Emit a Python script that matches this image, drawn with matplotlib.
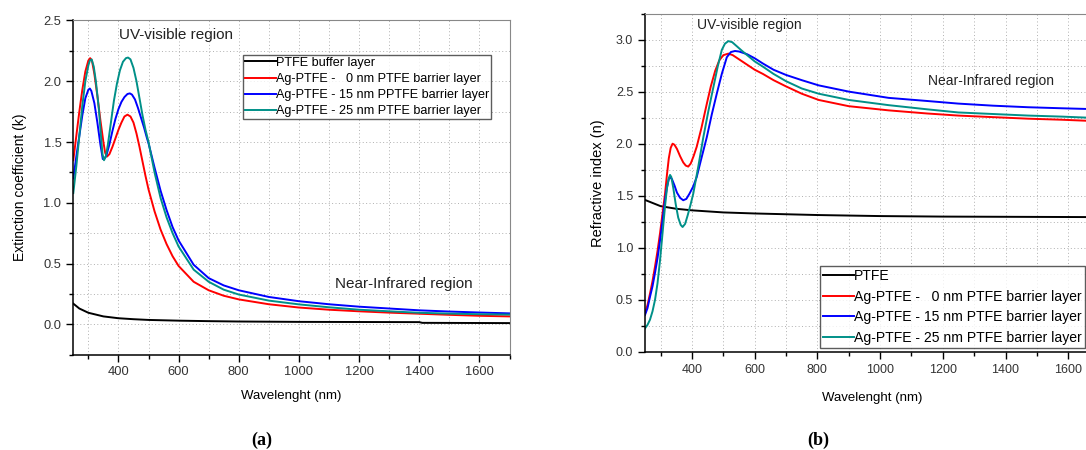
import numpy as np
import matplotlib.pyplot as plt
from matplotlib.ticker import MultipleLocator

plt.rcParams['font.family'] = ['Liberation Sans', 'DejaVu Sans']

# ---- (a) extinction coefficient k ----
wl_ptfe_k = [250, 270, 300, 350, 400, 450, 500, 600, 700, 800, 1000, 1200, 1400, 1410, 1700]
k_ptfe = [0.17, 0.13, 0.095, 0.065, 0.05, 0.042, 0.036, 0.03, 0.026, 0.023, 0.02, 0.019, 0.018, 0.012, 0.01]

wl_k0 = [250, 260, 270, 280, 290, 300, 306, 312, 320, 330, 340, 350, 356, 362, 370, 380, 390,
         400, 410, 420, 430, 440, 450, 460, 470, 480, 490, 500, 520, 540, 560, 580, 600, 650,
         700, 750, 800, 900, 1000, 1100, 1200, 1300, 1400, 1500, 1600, 1700]
k_0nm = [1.35, 1.55, 1.75, 1.93, 2.08, 2.17, 2.19, 2.17, 2.06, 1.88, 1.68, 1.50, 1.41, 1.38, 1.40,
         1.46, 1.53, 1.60, 1.66, 1.71, 1.725, 1.71, 1.66, 1.57, 1.46, 1.34, 1.22, 1.11, 0.93, 0.78,
         0.66, 0.56, 0.48, 0.35, 0.28, 0.235, 0.205, 0.165, 0.138, 0.12, 0.107, 0.096, 0.087,
         0.078, 0.07, 0.065]

wl_k15 = [250, 260, 270, 280, 290, 300, 305, 310, 320, 330, 340, 348, 355, 360, 370, 380, 390,
          400, 410, 420, 430, 438, 445, 455, 465, 475, 485, 495, 500, 520, 540, 560, 580, 600,
          650, 700, 750, 800, 900, 1000, 1100, 1200, 1300, 1400, 1500, 1600, 1700]
k_15nm = [1.20, 1.38, 1.55, 1.72, 1.86, 1.93, 1.94, 1.92, 1.82, 1.66, 1.48, 1.36, 1.37, 1.39,
          1.48, 1.59, 1.69, 1.77, 1.83, 1.87, 1.895, 1.90, 1.89, 1.85, 1.78, 1.70, 1.62, 1.53,
          1.49, 1.29, 1.10, 0.94, 0.80, 0.69, 0.49, 0.38, 0.32, 0.28, 0.225, 0.19, 0.165, 0.145,
          0.13, 0.115, 0.105, 0.097, 0.09]

wl_k25 = [250, 260, 270, 280, 290, 300, 305, 311, 318, 325, 335, 342, 347, 352, 358, 365, 375,
          385, 395, 405, 415, 425, 432, 440, 450, 460, 470, 480, 490, 500, 520, 540, 560, 580,
          600, 650, 700, 750, 800, 900, 1000, 1100, 1200, 1300, 1400, 1500, 1600, 1700]
k_25nm = [1.08, 1.30, 1.55, 1.80, 2.00, 2.13, 2.17, 2.18, 2.12, 2.00, 1.77, 1.55, 1.40, 1.35,
          1.38, 1.48, 1.66, 1.84, 1.98, 2.09, 2.16, 2.19, 2.195, 2.18, 2.11, 2.00, 1.86, 1.72,
          1.60, 1.50, 1.25, 1.04, 0.88, 0.75, 0.64, 0.45, 0.35, 0.285, 0.245, 0.195, 0.164,
          0.14, 0.12, 0.107, 0.095, 0.088, 0.083, 0.08]

# ---- (b) refractive index n ----
wl_ptfe_n = [250, 275, 300, 350, 400, 500, 600, 800, 1000, 1200, 1400, 1700]
n_ptfe = [1.46, 1.43, 1.40, 1.375, 1.36, 1.34, 1.33, 1.315, 1.305, 1.30, 1.298, 1.295]

wl_n0 = [250, 258, 266, 274, 282, 290, 298, 306, 314, 320, 326, 332, 338, 344, 352, 362, 372,
         380, 388, 396, 405, 415, 430, 447, 460, 474, 487, 500, 516, 530, 550, 575, 600, 626,
         660, 700, 750, 804, 900, 1027, 1150, 1249, 1360, 1472, 1580, 1700]
n_0nm = [0.37, 0.45, 0.56, 0.68, 0.82, 0.97, 1.14, 1.33, 1.52, 1.70, 1.86, 1.96, 2.00, 1.99,
         1.95, 1.88, 1.82, 1.79, 1.78, 1.81, 1.88, 1.97, 2.15, 2.38, 2.55, 2.70, 2.80, 2.85,
         2.865, 2.85, 2.81, 2.76, 2.71, 2.67, 2.61, 2.55, 2.48, 2.42, 2.36, 2.32, 2.29, 2.27,
         2.255, 2.24, 2.23, 2.215]

wl_n15 = [250, 258, 266, 274, 282, 290, 298, 306, 314, 320, 326, 330, 336, 344, 352, 362, 372,
          382, 392, 404, 415, 430, 447, 463, 479, 495, 511, 524, 537, 550, 575, 600, 626, 660,
          700, 750, 804, 900, 1027, 1150, 1249, 1360, 1472, 1580, 1700]
n_15nm = [0.355, 0.42, 0.53, 0.63, 0.76, 0.90, 1.07, 1.26, 1.46, 1.58, 1.66, 1.68, 1.66, 1.60,
          1.53, 1.48, 1.457, 1.47, 1.52, 1.59, 1.68, 1.86, 2.06, 2.28, 2.48, 2.67, 2.83, 2.88,
          2.89, 2.885, 2.86, 2.82, 2.77, 2.71, 2.66, 2.61, 2.56, 2.50, 2.44, 2.41, 2.385, 2.365,
          2.35, 2.34, 2.33]

wl_n25 = [250, 258, 266, 274, 282, 290, 298, 306, 314, 320, 326, 330, 334, 340, 348, 356, 364,
          370, 378, 386, 395, 404, 420, 436, 452, 468, 482, 495, 505, 516, 528, 545, 560, 580,
          600, 626, 660, 700, 750, 804, 900, 1027, 1150, 1249, 1360, 1472, 1580, 1700]
n_25nm = [0.227, 0.26, 0.31, 0.39, 0.50, 0.66, 0.88, 1.14, 1.40, 1.57, 1.67, 1.70, 1.68, 1.58,
          1.42, 1.29, 1.22, 1.20, 1.23, 1.31, 1.41, 1.52, 1.78, 2.06, 2.31, 2.54, 2.74, 2.90,
          2.96, 2.985, 2.975, 2.93, 2.89, 2.84, 2.79, 2.74, 2.67, 2.60, 2.53, 2.48, 2.42, 2.37,
          2.33, 2.30, 2.285, 2.27, 2.26, 2.245]

label_ptfe_a = 'PTFE buffer layer'
labels_a = ['Ag-PTFE -   0 nm PTFE barrier layer', 'Ag-PTFE - 15 nm PPTFE barrier layer',
            'Ag-PTFE - 25 nm PTFE barrier layer']
label_ptfe_b = 'PTFE'
labels_b = ['Ag-PTFE -   0 nm PTFE barrier layer', 'Ag-PTFE - 15 nm PTFE barrier layer',
            'Ag-PTFE - 25 nm PTFE barrier layer']

colores = ['red', 'blue', '#009088']
lw = 1.4


def estilo_ejes(ax, ymin, ymax, fs_ticks):
    ax.set_xlim(250, 1700)
    ax.set_ylim(ymin, ymax)
    ax.xaxis.set_major_locator(MultipleLocator(200))
    ax.xaxis.set_minor_locator(MultipleLocator(100))
    ax.yaxis.set_major_locator(MultipleLocator(0.5))
    ax.yaxis.set_minor_locator(MultipleLocator(0.25))
    ax.yaxis.set_major_formatter(plt.FuncFormatter(lambda v, p: f'{v:.1f}'))
    ax.grid(True, which='both', linestyle=(0, (1, 2.5)), color='#b0b0b0', linewidth=0.7)
    ax.set_axisbelow(True)
    ax.tick_params(which='major', direction='out', length=5, width=1, labelsize=fs_ticks,
                   labelcolor='#333333')
    ax.tick_params(which='minor', direction='out', length=3, width=1)
    for s in ['top', 'right']:
        ax.spines[s].set_color('#888888')
    for s in ['left', 'bottom']:
        ax.spines[s].set_linewidth(1.1)


fig = plt.figure(figsize=(10.86, 4.5), dpi=100)

# Panel (a)
ax1 = fig.add_axes([0.0675, 0.2118, 0.4017, 0.7427])
ax1.plot(wl_ptfe_k, k_ptfe, color='black', lw=lw, label=label_ptfe_a)
ax1.plot(wl_k0, k_0nm, color=colores[0], lw=lw, label=labels_a[0])
ax1.plot(wl_k15, k_15nm, color=colores[1], lw=lw, label=labels_a[1])
ax1.plot(wl_k25, k_25nm, color=colores[2], lw=lw, label=labels_a[2])
estilo_ejes(ax1, -0.25, 2.5, 9.3)
ax1.set_ylabel('Extinction coefficient (k)', fontsize=10, labelpad=12)
ax1.set_xlabel('Wavelenght (nm)', fontsize=9.5, labelpad=8)
ax1.text(402, 2.38, 'UV-visible region', fontsize=11, va='center', color='#222222')
ax1.text(1119, 0.328, 'Near-Infrared region', fontsize=11, va='center', color='#222222')
leg1 = ax1.legend(loc='upper left', bbox_to_anchor=(0.39, 0.897), fontsize=9.1,
                  frameon=True, fancybox=False, edgecolor='#333333', handlelength=2.4,
                  handletextpad=0.05, labelspacing=0.33, borderpad=0.15, borderaxespad=0)
leg1.get_frame().set_linewidth(1.0)

# Panel (b)
ax2 = fig.add_axes([0.5939, 0.2178, 0.4186, 0.7522])
ax2.plot(wl_ptfe_n, n_ptfe, color='black', lw=lw, label=label_ptfe_b)
ax2.plot(wl_n0, n_0nm, color=colores[0], lw=lw, label=labels_b[0])
ax2.plot(wl_n15, n_15nm, color=colores[1], lw=lw, label=labels_b[1])
ax2.plot(wl_n25, n_25nm, color=colores[2], lw=lw, label=labels_b[2])
estilo_ejes(ax2, 0.0, 3.25, 9)
ax2.set_ylabel('Refractive index (n)', fontsize=10.5, labelpad=8)
ax2.set_xlabel('Wavelenght (nm)', fontsize=9.5, labelpad=12)
ax2.text(415, 3.135, 'UV-visible region', fontsize=10, va='center', color='#222222')
ax2.text(1152, 2.60, 'Near-Infrared region', fontsize=10, va='center', color='#222222')
leg2 = ax2.legend(loc='lower left', bbox_to_anchor=(0.385, 0.012), fontsize=10.1,
                  frameon=True, fancybox=False, edgecolor='#333333', handlelength=2.2,
                  handletextpad=0.05, labelspacing=0.48, borderpad=0.2, borderaxespad=0)
leg2.get_frame().set_linewidth(1.0)

# captions
fig.text(262 / 1086, 1 - 440 / 450, '(a)', fontsize=13, family='Liberation Serif',
         fontweight='bold', ha='center', va='center')
fig.text(818 / 1086, 1 - 440 / 450, '(b)', fontsize=13, family='Liberation Serif',
         fontweight='bold', ha='center', va='center')

fig.savefig('out.png', dpi=100)
